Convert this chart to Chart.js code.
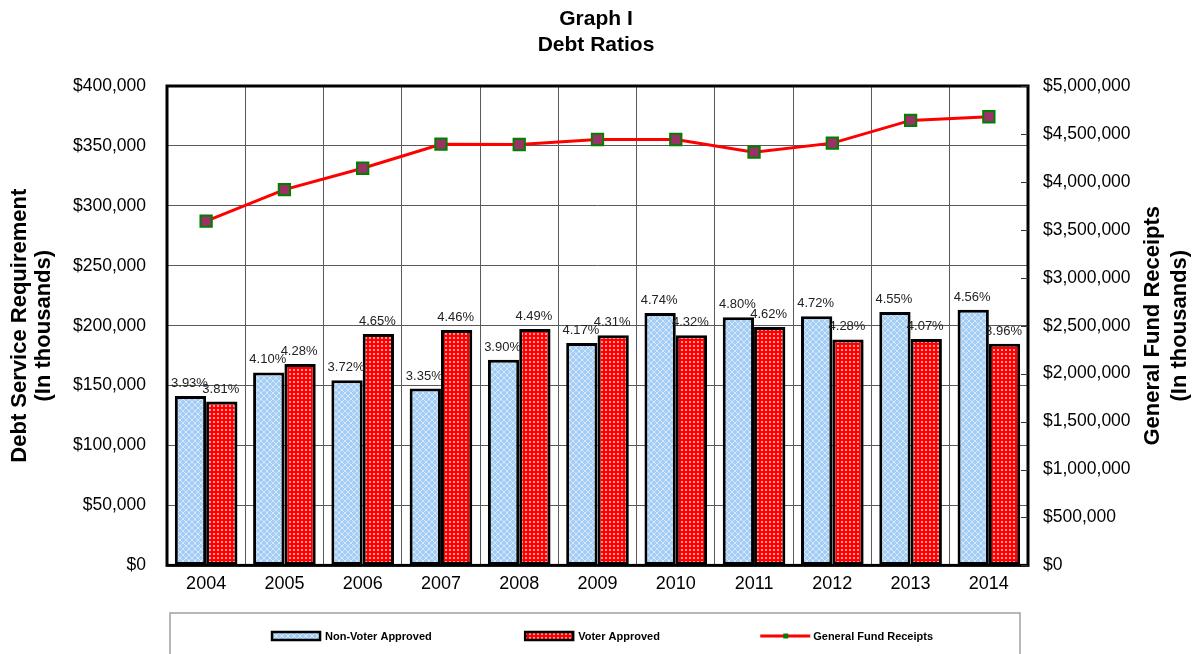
<!DOCTYPE html>
<html>
<head>
<meta charset="utf-8">
<title>Graph I - Debt Ratios</title>
<script src="https://cdn.jsdelivr.net/npm/chart.js@4.4.1/dist/chart.umd.min.js"></script>
<style>
  html, body { margin: 0; padding: 0; background: #fff; }
  #wrap { width: 1192px; height: 654px; position: relative; }
</style>
</head>
<body>
<div id="wrap"><canvas id="debt_chart"></canvas></div>
<script>
// values
const years = ['2004', '2005', '2006', '2007', '2008', '2009', '2010', '2011', '2012', '2013', '2014'];
const nonVoterApproved = [141400, 161000, 154500, 147500, 171500, 185500, 210600, 207000, 207800, 211400, 213400];
const voterApproved = [136700, 168000, 193000, 196400, 197200, 192000, 192000, 199000, 188500, 189000, 185000];
const nonVoterPct = ['3.93%', '4.10%', '3.72%', '3.35%', '3.90%', '4.17%', '4.74%', '4.80%', '4.72%', '4.55%', '4.56%'];
const voterPct = ['3.81%', '4.28%', '4.65%', '4.46%', '4.49%', '4.31%', '4.32%', '4.62%', '4.28%', '4.07%', '3.96%'];
const fundReceipts = [3591000, 3919000, 4142000, 4393000, 4390000, 4442000, 4442000, 4310000, 4404000, 4641000, 4679000];

const leftTitle = ['Debt Service Requirement', '(In thousands)'];
const rightTitle = ['General Fund Receipts', '(In thousands)'];

Chart.defaults.font.family = '"Liberation Sans", Arial, sans-serif';
Chart.defaults.color = '#000';

function bluePattern() {
    const c = document.createElement('canvas');
    c.width = 6; c.height = 6;
    const g = c.getContext('2d');
    g.fillStyle = '#a4cdf6';
    g.fillRect(0, 0, 6, 6);
    g.strokeStyle = 'rgba(255,255,255,0.55)';
    g.lineWidth = 1;
    g.beginPath();
    g.moveTo(0, 0); g.lineTo(6, 6);
    g.moveTo(6, 0); g.lineTo(0, 6);
    g.stroke();
    return g.createPattern(c, 'repeat');
}

function redPattern() {
    const c = document.createElement('canvas');
    c.width = 4; c.height = 4;
    const g = c.getContext('2d');
    g.fillStyle = '#ff0000';
    g.fillRect(0, 0, 4, 4);
    g.fillStyle = 'rgba(255,255,255,0.6)';
    g.fillRect(1, 1, 2, 2);
    return g.createPattern(c, 'repeat');
}

const money = v => '$' + Number(v).toLocaleString('en-US');

const extras = {
    id: 'extras',
    afterDatasetsDraw(chart) {
        const {ctx, chartArea: a} = chart;
        // plot frame
        ctx.save();
        ctx.strokeStyle = '#000';
        ctx.lineWidth = 3;
        ctx.strokeRect(a.left, a.top, a.right - a.left, a.bottom - a.top);

        // inner tick marks of the right axis
        const y2 = chart.scales.y2;
        ctx.lineWidth = 1;
        ctx.strokeStyle = '#333';
        y2.ticks.forEach(t => {
            const y = Math.round(y2.getPixelForValue(t.value)) + 0.5;
            ctx.beginPath();
            ctx.moveTo(a.right - 7, y);
            ctx.lineTo(a.right, y);
            ctx.stroke();
        });

        // percentage labels above the bars
        ctx.font = '13px "Liberation Sans", Arial, sans-serif';
        ctx.fillStyle = '#222';
        ctx.textAlign = 'center';
        ctx.textBaseline = 'alphabetic';
        [nonVoterPct, voterPct].forEach((labels, di) => {
            chart.getDatasetMeta(di).data.forEach((bar, i) => {
                ctx.fillText(labels[i], bar.x - 1, bar.y - 9);
            });
        });
        ctx.restore();
    },
    afterDraw(chart) {
        const {ctx, chartArea: a} = chart;
        ctx.save();
        // right axis title, reading bottom to top
        ctx.font = 'bold 22px "Liberation Sans", Arial, sans-serif';
        ctx.fillStyle = '#000';
        ctx.textAlign = 'center';
        ctx.textBaseline = 'middle';
        const midY = (a.top + a.bottom) / 2;
        rightTitle.forEach((t, i) => {
            ctx.save();
            ctx.translate(a.right + 125 + i * 27, midY);
            ctx.rotate(-Math.PI / 2);
            ctx.fillText(t, 0, 0);
            ctx.restore();
        });

        // legend box
        const top = chart.height - 41;
        ctx.strokeStyle = '#a0a0a0';
        ctx.lineWidth = 1.5;
        ctx.strokeRect(a.left + 3, top, a.right - a.left - 11, 60);
        const cy = top + 23;
        const w = a.right - a.left;
        const starts = [0.122, 0.416, 0.689].map(f => a.left + f * w);
        ctx.font = 'bold 11px "Liberation Sans Narrow", "Arial Narrow", "Liberation Sans", sans-serif';
        ctx.textAlign = 'left';
        ctx.textBaseline = 'middle';
        chart.data.datasets.forEach((ds, i) => {
            const x = starts[i];
            if (ds.type === 'line') {
                ctx.strokeStyle = ds.borderColor;
                ctx.lineWidth = 3;
                ctx.beginPath();
                ctx.moveTo(x, cy);
                ctx.lineTo(x + 50, cy);
                ctx.stroke();
                ctx.fillStyle = ds.pointBorderColor;
                ctx.fillRect(x + 23, cy - 2.5, 5, 5);
            } else {
                ctx.fillStyle = ds.backgroundColor;
                ctx.fillRect(x, cy - 4, 48, 8);
                ctx.strokeStyle = '#000';
                ctx.lineWidth = 2.5;
                ctx.strokeRect(x, cy - 4, 48, 8);
            }
            ctx.fillStyle = '#000';
            ctx.fillText(ds.label, x + 53, cy + 1);
        });
        ctx.restore();
    }
};

function prepareChart()
{
    const data = {
        labels: years,
        datasets: [{
            type: 'bar',
            label: 'Non-Voter Approved',
            data: nonVoterApproved,
            yAxisID: 'y',
            backgroundColor: bluePattern(),
            borderColor: '#000',
            borderWidth: 3,
            borderSkipped: false,
            order: 1
        }, {
            type: 'bar',
            label: 'Voter Approved',
            data: voterApproved,
            yAxisID: 'y',
            backgroundColor: redPattern(),
            borderColor: '#000',
            borderWidth: 3,
            borderSkipped: false,
            order: 1
        }, {
            type: 'line',
            label: 'General Fund Receipts',
            data: fundReceipts,
            yAxisID: 'y2',
            borderColor: '#ff0000',
            backgroundColor: '#ff0000',
            borderWidth: 3,
            tension: 0,
            pointStyle: 'rect',
            pointRadius: 8,
            pointBackgroundColor: '#993366',
            pointBorderColor: '#008000',
            pointBorderWidth: 2,
            order: 0
        }]
    };

    const config = {
        data: data,
        options: {
            responsive: true,
            maintainAspectRatio: false,
            animation: false,
            datasets: {
                bar: { categoryPercentage: 0.8, barPercentage: 1.0 }
            },
            layout: { padding: { left: 0, right: 0, top: 0, bottom: 51 } },
            plugins: {
                legend: { display: false },
                tooltip: { enabled: false },
                title: {
                    display: true,
                    text: ['Graph I', 'Debt Ratios'],
                    color: '#000',
                    font: { size: 21, weight: 'bold', lineHeight: 1.2 },
                    padding: { top: 7, bottom: 28.6 }
                }
            },
            scales: {
                x: {
                    grid: { color: '#5a5a5a', lineWidth: 1, drawTicks: false, offset: true },
                    border: { display: false },
                    ticks: { font: { size: 18 }, color: '#000', padding: 8 }
                },
                y: {
                    position: 'left',
                    min: 0,
                    max: 400000,
                    afterFit: s => { s.width = 167; },
                    grid: { color: '#5a5a5a', lineWidth: 1, drawTicks: false },
                    border: { display: false },
                    ticks: { stepSize: 50000, font: { size: 17.5 }, color: '#000', padding: 21, callback: money },
                    title: {
                        display: true,
                        text: leftTitle,
                        color: '#000',
                        font: { size: 22, weight: 'bold', lineHeight: 1.1 },
                        padding: { top: 8, bottom: 0 }
                    }
                },
                y2: {
                    position: 'right',
                    min: 0,
                    max: 5000000,
                    afterFit: s => { s.width = 164; },
                    grid: { drawOnChartArea: false, drawTicks: false },
                    border: { display: false },
                    ticks: { stepSize: 500000, font: { size: 17.5 }, color: '#000', padding: 15, callback: money }
                }
            }
        },
        plugins: [extras]
    };

    new Chart(document.getElementById('debt_chart'), config);
}

window.addEventListener('load', prepareChart);
</script>
</body>
</html>
